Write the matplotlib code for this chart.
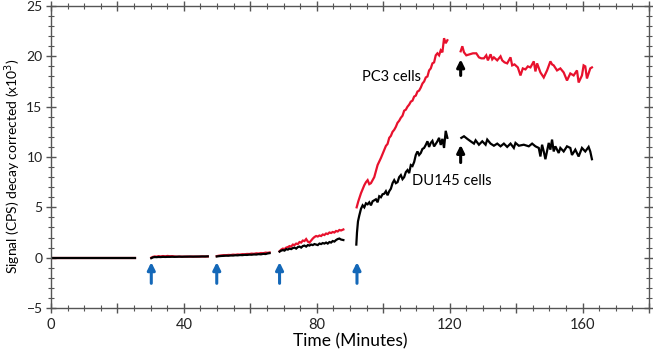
import matplotlib
matplotlib.use("Agg")
import matplotlib.pyplot as plt
from matplotlib.ticker import MultipleLocator, FuncFormatter

plt.rcParams['font.family'] = ['Lato', 'DejaVu Sans']

# time (minutes) and signal (CPS x10^3), one list per recorded segment
t_seg1 = [0.0, 25.2]
pc3_seg1 = [0.0, 0.0]
du145_seg1 = [0.0, 0.0]

t_seg2 = [30.2, 30.7, 31.2, 31.8, 32.4, 33.0, 33.7, 34.4, 35.1, 35.8, 36.5, 37.2,
          37.9, 38.6, 39.4, 40.2, 41.0, 41.9, 42.8, 43.7, 44.6, 45.5, 46.4, 47.2]
pc3_seg2 = [0.0, 0.08, 0.12, 0.10, 0.15, 0.12, 0.16, 0.13, 0.17, 0.14, 0.15, 0.12,
            0.10, 0.11, 0.10, 0.10, 0.11, 0.10, 0.11, 0.10, 0.11, 0.12, 0.11, 0.12]
du145_seg2 = [-0.05, 0.03, 0.06, 0.05, 0.07, 0.06, 0.08, 0.07, 0.08, 0.08, 0.09, 0.08,
              0.09, 0.10, 0.09, 0.10, 0.10, 0.11, 0.10, 0.11, 0.11, 0.12, 0.12, 0.13]

t_seg3 = [49.9, 50.6, 51.3, 52.0, 52.7, 53.4, 54.1, 54.8, 55.5, 56.2, 56.9, 57.6,
          58.3, 59.0, 59.7, 60.4, 61.1, 61.8, 62.5, 63.2, 63.9, 64.6, 65.2, 65.8]
pc3_seg3 = [0.15, 0.20, 0.22, 0.25, 0.24, 0.27, 0.26, 0.30, 0.28, 0.32, 0.30, 0.35,
            0.33, 0.37, 0.36, 0.40, 0.38, 0.43, 0.41, 0.46, 0.44, 0.50, 0.48, 0.52]
du145_seg3 = [0.12, 0.15, 0.17, 0.18, 0.20, 0.19, 0.22, 0.21, 0.24, 0.23, 0.26, 0.25,
              0.28, 0.27, 0.30, 0.29, 0.32, 0.31, 0.35, 0.33, 0.38, 0.36, 0.42, 0.45]

t_seg4 = [68.8, 69.3, 69.8, 70.3, 70.8, 71.3, 71.8, 72.3, 72.8, 73.3, 73.8, 74.3,
          74.8, 75.3, 75.8, 76.3, 76.8, 77.3, 77.8, 78.3, 78.8, 79.3, 79.8, 80.3,
          80.8, 81.3, 81.8, 82.3, 82.8, 83.3, 83.8, 84.3, 84.8, 85.3, 85.8, 86.3,
          86.8, 87.3, 88.0]
pc3_seg4 = [0.64, 0.80, 0.90, 0.85, 1.00, 1.05, 1.15, 1.10, 1.30, 1.25, 1.40, 1.35,
            1.55, 1.50, 1.70, 1.65, 1.85, 1.60, 1.50, 1.70, 1.90, 2.05, 2.15, 2.10,
            2.20, 2.15, 2.30, 2.25, 2.40, 2.35, 2.50, 2.45, 2.55, 2.50, 2.65, 2.60,
            2.75, 2.70, 2.80]
du145_seg4 = [0.60, 0.70, 0.75, 0.70, 0.85, 0.80, 0.90, 0.85, 0.95, 1.00, 0.90, 1.05,
              1.10, 1.00, 1.15, 1.20, 1.10, 1.25, 1.20, 1.30, 1.25, 1.35, 1.30, 1.25,
              1.40, 1.35, 1.45, 1.40, 1.50, 1.40, 1.55, 1.50, 1.65, 1.60, 1.75, 1.85,
              1.90, 1.80, 1.75]

t_pc3_seg5 = [92.0, 92.5, 93.3, 94.3, 94.8, 95.3, 95.8, 96.3, 97.3, 98.3, 99.3, 100.3,
              100.8, 101.3, 101.8, 102.3, 102.8, 103.3, 103.8, 104.3, 104.8, 105.3,
              105.8, 106.3, 106.8, 107.3, 107.8, 108.3, 108.8, 109.3, 109.8, 110.3,
              110.8, 111.3, 111.8, 112.3, 112.8, 113.3, 113.8, 114.3, 114.8, 115.3,
              115.8, 116.3, 116.8, 117.3, 117.8, 118.3, 118.8, 119.3]
pc3_seg5 = [5.0, 5.6, 6.4, 7.2, 7.5, 7.7, 7.3, 7.4, 8.0, 9.2, 9.9, 10.7,
            11.1, 11.3, 11.9, 12.1, 12.5, 12.7, 13.0, 13.4, 13.6, 13.9,
            14.1, 14.6, 14.7, 15.0, 15.2, 15.5, 15.6, 16.0, 16.1, 16.5,
            16.6, 16.9, 17.3, 17.5, 17.9, 18.0, 18.6, 18.8, 19.3, 19.4,
            20.1, 20.3, 20.1, 20.6, 20.4, 21.8, 21.3, 21.6]

t_du145_seg5 = [91.9, 92.1, 92.4, 92.8, 93.3, 93.8, 94.3, 94.8, 95.3, 95.8, 96.3, 96.8,
                97.3, 97.8, 98.3, 98.8, 99.3, 99.8, 100.3, 100.8, 101.3, 101.8, 102.3,
                102.8, 103.3, 103.8, 104.3, 104.8, 105.3, 105.8, 106.3, 106.8, 107.3,
                107.8, 108.3, 108.8, 109.3, 109.8, 110.3, 110.8, 111.3, 111.8, 112.3,
                112.8, 113.3, 113.8, 114.3, 114.8, 115.3, 115.8, 116.3, 116.8, 117.3,
                117.8, 118.3, 118.8, 119.3]
du145_seg5 = [1.3, 2.5, 3.6, 4.2, 4.85, 5.2, 5.0, 5.4, 5.3, 5.5, 5.2, 5.6,
              5.7, 5.8, 5.5, 6.1, 6.0, 6.3, 6.35, 6.6, 6.2, 6.6, 6.85,
              7.4, 7.7, 7.4, 7.5, 8.0, 8.2, 7.8, 8.0, 8.5, 8.7,
              8.4, 9.2, 9.1, 9.5, 10.2, 10.55, 10.2, 10.4, 10.8, 10.9,
              11.2, 11.56, 11.0, 11.4, 11.6, 11.05, 11.3, 11.56, 11.9, 11.2,
              11.8, 10.9, 12.6, 11.9]

t_pc3_seg6 = [123.3, 123.8, 124.3, 125.0, 126.0, 127.0, 128.0, 128.8, 129.5, 130.3,
              131.0, 131.5, 132.3, 132.8, 133.3, 134.3, 135.3, 135.8, 136.5, 137.3,
              138.3, 138.8, 139.5, 140.5, 141.3, 142.0, 142.8, 143.5, 144.3, 145.3,
              145.8, 146.3, 147.3, 148.3, 149.3, 150.3, 150.8, 151.3, 152.3, 153.3,
              154.3, 155.3, 156.3, 157.3, 158.3, 158.8, 159.8, 160.3, 160.8, 161.3,
              162.3, 162.8]
pc3_seg6 = [20.5, 21.0, 20.4, 20.1, 20.2, 20.3, 20.3, 19.9, 19.8, 19.8,
            20.1, 19.6, 20.2, 19.7, 19.9, 19.6, 20.0, 19.6, 19.4, 19.3,
            19.9, 19.1, 19.2, 18.9, 18.1, 18.8, 18.7, 19.0, 18.9, 19.5,
            18.5, 19.3, 18.4, 17.9, 18.6, 19.5, 19.2, 19.1, 18.6, 18.8,
            18.4, 17.6, 18.3, 18.1, 18.6, 17.4, 18.1, 19.1, 19.0, 17.8,
            18.8, 18.9]

t_du145_seg6 = [123.5, 124.3, 125.3, 126.3, 127.3, 127.8, 128.8, 129.8, 130.8, 131.3,
                132.3, 133.3, 134.3, 135.3, 136.3, 137.3, 138.3, 139.3, 139.8, 140.8,
                142.3, 143.8, 144.8, 145.8, 146.8, 147.3, 147.8, 148.3, 148.8, 149.8,
                150.3, 150.8, 151.3, 151.8, 152.8, 153.3, 154.3, 155.3, 156.3, 156.8,
                157.8, 158.8, 159.8, 160.8, 161.8, 162.3, 162.8]
du145_seg6 = [11.9, 12.06, 11.8, 11.56, 11.33, 11.66, 11.22, 11.56, 11.22, 11.73,
              11.33, 11.12, 11.33, 11.06, 11.33, 11.0, 11.33, 10.9, 11.4, 11.12,
              11.22, 11.06, 11.33, 11.06, 10.9, 10.05, 11.22, 10.55, 9.78, 11.4,
              10.73, 11.73, 10.55, 11.06, 10.4, 10.9, 10.55, 11.06, 10.9, 10.2,
              10.73, 10.05, 10.9, 10.55, 11.0, 10.55, 9.78]

pc3_segments = [(t_seg1, pc3_seg1), (t_seg2, pc3_seg2), (t_seg3, pc3_seg3),
                (t_seg4, pc3_seg4), (t_pc3_seg5, pc3_seg5), (t_pc3_seg6, pc3_seg6)]
du145_segments = [(t_seg1, du145_seg1), (t_seg2, du145_seg2), (t_seg3, du145_seg3),
                  (t_seg4, du145_seg4), (t_du145_seg5, du145_seg5),
                  (t_du145_seg6, du145_seg6)]

# injection times (blue arrows) and the later marker (black arrows)
injection_times = [30.2, 49.9, 68.8, 92.1]
marker_time = 123.3
marker_pc3 = (18.1, 19.7)
marker_du145 = (9.45, 11.2)


def main():
    fig = plt.figure(figsize=(6.53, 3.53), dpi=100)
    ax = fig.add_axes([0.078, 0.1275, 0.916, 0.8555])

    red = '#e8112d'
    blue = '#1468b8'
    for t, y in pc3_segments:
        ax.plot(t, y, color=red, lw=1.6, solid_joinstyle='miter')
    for t, y in du145_segments:
        ax.plot(t, y, color='black', lw=1.6, solid_joinstyle='miter')

    for xi in injection_times:
        ax.annotate('', xy=(xi, -0.45), xytext=(xi, -2.55),
                    arrowprops=dict(arrowstyle='-|>', color=blue, lw=2.2,
                                    mutation_scale=11, shrinkA=0, shrinkB=0))
    for lo, hi in (marker_pc3, marker_du145):
        ax.annotate('', xy=(marker_time, hi), xytext=(marker_time, lo),
                    arrowprops=dict(arrowstyle='-|>', color='black', lw=2.2,
                                    mutation_scale=11, shrinkA=0, shrinkB=0))

    ax.text(93.5, 17.9, 'PC3 cells', fontsize=10.5, va='center', ha='left')
    ax.text(108.6, 7.6, 'DU145 cells', fontsize=10.5, va='center', ha='left')

    ax.set_xlim(0, 180)
    ax.set_ylim(-5, 25)
    ax.xaxis.set_major_locator(MultipleLocator(20))
    ax.xaxis.set_minor_locator(MultipleLocator(5))
    ax.xaxis.set_major_formatter(FuncFormatter(
        lambda v, p: '%d' % v if int(round(v)) % 40 == 0 else ''))
    ax.yaxis.set_major_locator(MultipleLocator(5))
    ax.yaxis.set_minor_locator(MultipleLocator(1))

    for s in ax.spines.values():
        s.set_color('#555555')
        s.set_linewidth(1.0)
    ax.tick_params(which='major', direction='inout', length=7, width=1.0,
                   color='#555555', top=True, right=True, labelsize=10.5,
                   labelcolor='#222222', pad=4)
    ax.tick_params(axis='y', which='major', labelsize=10, pad=2.5)
    ax.tick_params(which='minor', direction='inout', length=4, width=0.8,
                   color='#555555', top=True, right=True)

    ax.set_xlabel('Time (Minutes)', fontsize=12.5, labelpad=1)
    ax.set_ylabel('Signal (CPS) decay corrected (x10$^3$)', fontsize=10)
    ax.yaxis.set_label_coords(-0.047, 0.47)

    fig.savefig('out.png', dpi=100)


if __name__ == "__main__":
    main()
